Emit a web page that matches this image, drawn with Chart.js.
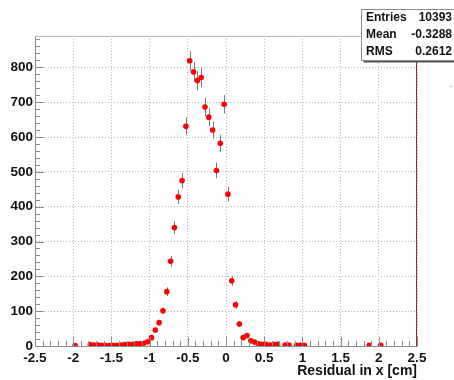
<!DOCTYPE html>
<html>
<head>
<meta charset="utf-8">
<script src="https://cdn.jsdelivr.net/npm/chart.js@4.4.1/dist/chart.umd.min.js"></script>
<style>
  html, body { margin: 0; padding: 0; background: #fff; }
  canvas { display: block; }
</style>
</head>
<body>
<canvas id="grafica" width="454" height="380"></canvas>
<script>
const binCenters = [
  -1.975, -1.775, -1.725, -1.675, -1.625, -1.575, -1.525, -1.475, -1.425, -1.375,
  -1.325, -1.275, -1.225, -1.175, -1.125, -1.075, -1.025, -0.975, -0.925, -0.875,
  -0.825, -0.775, -0.725, -0.675, -0.625, -0.575, -0.525, -0.475, -0.425, -0.375,
  -0.325, -0.275, -0.225, -0.175, -0.125, -0.075, -0.025, 0.025, 0.075, 0.125,
  0.175, 0.225, 0.275, 0.325, 0.375, 0.425, 0.475, 0.525, 0.575, 0.625,
  0.675, 0.775, 0.825, 0.925, 0.975, 1.025, 1.875, 2.025
];
const counts = [
  1, 4, 3, 3, 2, 1, 1, 1, 2, 3,
  4, 5, 5, 6, 6, 8, 12, 24, 46, 67,
  101, 156, 243, 340, 428, 475, 631, 819, 787, 762,
  771, 686, 657, 620, 504, 582, 694, 436, 187, 118,
  63, 24, 30, 15, 11, 6, 5, 5, 3, 4,
  5, 3, 3, 2, 2, 2, 2, 2
];

const xTicks = [-2.5, -2, -1.5, -1, -0.5, 0, 0.5, 1, 1.5, 2, 2.5];
const xTickLabels = ['-2.5', '-2', '-1.5', '-1', '-0.5', '0', '0.5', '1', '1.5', '2', '2.5'];
const yTicks = [0, 100, 200, 300, 400, 500, 600, 700, 800];
const yTickLabels = ['0', '100', '200', '300', '400', '500', '600', '700', '800'];

const statNames = ['Entries', 'Mean', 'RMS'];
const statValues = ['10393', '-0.3288', '0.2612'];

const xMinorStep = 0.1;
const yMinorStep = 20;

const fuente = '"Liberation Sans", Arial, sans-serif';

// marcas hacia adentro, errores, marco y caja de estadisticas
const decoraciones = {
  id: 'decoraciones',
  beforeDatasetsDraw(chart) {
    const ctx = chart.ctx;
    const x = chart.scales.x;
    const y = chart.scales.y;
    ctx.save();
    ctx.strokeStyle = '#7a7a7a';
    ctx.lineWidth = 1;
    binCenters.forEach((c, i) => {
      const err = Math.sqrt(counts[i]);
      const px = Math.round(x.getPixelForValue(c)) + 0.5;
      ctx.beginPath();
      ctx.moveTo(px, y.getPixelForValue(counts[i] + err));
      ctx.lineTo(px, y.getPixelForValue(Math.max(0, counts[i] - err)));
      ctx.stroke();
    });
    ctx.restore();
  },
  afterDraw(chart) {
    const ctx = chart.ctx;
    const area = chart.chartArea;
    const x = chart.scales.x;
    const y = chart.scales.y;
    ctx.save();
    ctx.strokeStyle = '#8c8c8c';
    ctx.lineWidth = 1;

    // ticks del eje x
    for (let v = x.min; v <= x.max + 1e-9; v += xMinorStep) {
      const px = Math.round(x.getPixelForValue(v)) + 0.5;
      const mayor = Math.abs(v / 0.5 - Math.round(v / 0.5)) < 1e-6;
      ctx.beginPath();
      ctx.moveTo(px, area.bottom);
      ctx.lineTo(px, area.bottom - (mayor ? 9 : 5));
      ctx.stroke();
    }
    // ticks del eje y
    for (let v = 0; v <= y.max; v += yMinorStep) {
      const py = Math.round(y.getPixelForValue(v)) + 0.5;
      const mayor = v % 100 === 0;
      ctx.beginPath();
      ctx.moveTo(area.left, py);
      ctx.lineTo(area.left + (mayor ? 9 : 5), py);
      ctx.stroke();
    }

    // borde superior del marco
    ctx.strokeStyle = '#b4b4b4';
    ctx.beginPath();
    ctx.moveTo(area.left, area.top + 0.5);
    ctx.lineTo(area.right, area.top + 0.5);
    ctx.stroke();

    // linea roja en el borde derecho
    ctx.strokeStyle = '#a0282d';
    ctx.beginPath();
    ctx.moveTo(area.right - 0.5, area.top);
    ctx.lineTo(area.right - 0.5, area.bottom);
    ctx.stroke();

    // caja de estadisticas
    const bx = 361.5, by = 9.5, bw = 100, bh = 51;
    ctx.fillStyle = '#555';
    ctx.fillRect(bx + 2, by + 2, bw, bh);
    ctx.fillStyle = '#fff';
    ctx.fillRect(bx, by, bw, bh);
    ctx.strokeStyle = '#8c8c8c';
    ctx.strokeRect(bx, by, bw, bh);
    ctx.fillStyle = '#111';
    ctx.font = 'bold 12px ' + fuente;
    ctx.textBaseline = 'middle';
    statNames.forEach((n, i) => {
      const ty = by + 8.5 + i * 17;
      ctx.textAlign = 'left';
      ctx.fillText(n, 366, ty);
      ctx.textAlign = 'right';
      ctx.fillText(statValues[i], 452, ty);
    });

    // titulo del eje x
    ctx.fillStyle = '#111';
    ctx.font = 'bold 14px ' + fuente;
    ctx.textAlign = 'right';
    ctx.fillText('Residual in x [cm]', area.right, area.bottom + 25);

    ctx.fillStyle = '#c8c8c8';
    ctx.font = '9px ' + fuente;
    ctx.textAlign = 'center';
    ctx.fillText('+', 451, 88);
    ctx.restore();
  }
};

const ctx = document.getElementById('grafica').getContext('2d');
new Chart(ctx, {
  type: 'scatter',
  data: {
    datasets: [{
      label: 'Residual',
      data: binCenters.map((c, i) => ({ x: c, y: counts[i] })),
      backgroundColor: '#ff0000',
      borderWidth: 0,
      pointRadius: 2.8,
      pointHoverRadius: 2.8
    }]
  },
  options: {
    responsive: false,
    animation: false,
    devicePixelRatio: 1,
    layout: { padding: { top: 36, right: 37, left: 0, bottom: 0 } },
    plugins: {
      legend: { display: false },
      tooltip: { enabled: false }
    },
    scales: {
      x: {
        type: 'linear',
        min: -2.5,
        max: 2.5,
        afterBuildTicks: s => { s.ticks = xTicks.map(v => ({ value: v })); },
        afterFit: s => { s.height = 34; },
        grid: { color: '#b8b8b8', drawTicks: false },
        border: { color: '#8c8c8c', dash: [1, 2] },
        ticks: {
          padding: 4,
          color: '#111',
          maxRotation: 0,
          font: { family: fuente, size: 13.5, weight: 'bold' },
          callback: (v, i) => xTickLabels[i]
        }
      },
      y: {
        min: 0,
        max: 890,
        afterBuildTicks: s => { s.ticks = yTicks.map(v => ({ value: v })); },
        afterFit: s => { s.width = 35; },
        grid: { color: '#b8b8b8', drawTicks: false },
        border: { color: '#8c8c8c', dash: [1, 2] },
        ticks: {
          padding: 2,
          color: '#111',
          font: { family: fuente, size: 13.5, weight: 'bold' },
          callback: (v, i) => yTickLabels[i]
        }
      }
    }
  },
  plugins: [decoraciones]
});
</script>
</body>
</html>
